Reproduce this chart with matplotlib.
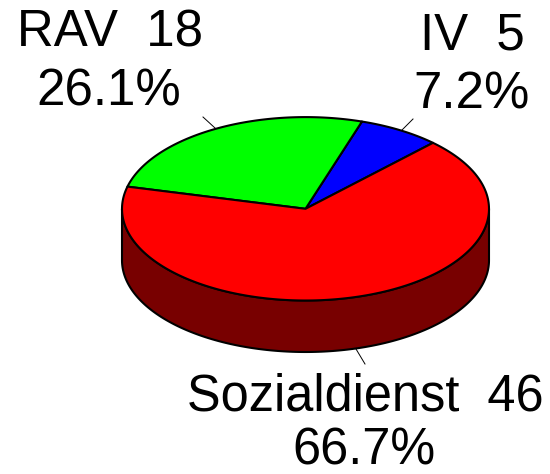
import numpy as np
import matplotlib
matplotlib.use("Agg")
import matplotlib.pyplot as plt
from matplotlib.patches import Polygon

labels = ["IV", "RAV", "Sozialdienst"]
counts = [5, 18, 46]
percents = ["7.2%", "26.1%", "66.7%"]
colors = ["#0000ff", "#00ff00", "#ff0000"]
side_color = "#780000"

plt.rcParams['font.family'] = ['Liberation Sans', 'DejaVu Sans']
fig = plt.figure(figsize=(5.5, 4.74), dpi=100)
ax = fig.add_axes([0, 0, 1, 1])
ax.set_xlim(0, 550)
ax.set_ylim(474, 0)
ax.axis('off')

cx, cy, rx, ry, depth = 305.5, 208.8, 183.5, 91.7, 51.5
start = 46.0
edge_lw = 1.5

def pt(a, dy=0):
    a = np.radians(a)
    return np.column_stack([cx + rx*np.cos(a), cy - ry*np.sin(a) + dy])

# leader lines
for (x0, y0, x1, y1) in [(402, 130, 413, 119), (215, 128, 203, 117), (356, 349, 365, 364)]:
    ax.plot([x0, x1], [y0, y1], color='black', lw=0.7, zorder=0.5)

# side wall (front half of the ellipse)
arc = np.linspace(180, 360, 200)
side = np.vstack([pt(arc), pt(arc[::-1], depth)])
ax.add_patch(Polygon(side, closed=True, fc=side_color, ec='black', lw=edge_lw, joinstyle='round'))

# top wedges
total = sum(counts)
a0 = start
for c, col in zip(counts, colors):
    a1 = a0 + 360*c/total
    arc = np.linspace(a0, a1, 200)
    poly = np.vstack([[cx, cy], pt(arc)])
    ax.add_patch(Polygon(poly, closed=True, fc=col, ec='black', lw=edge_lw, joinstyle='round'))
    a0 = a1

fs = 36.7
ax.text(472, 36, f"{labels[0]}  {counts[0]}", fontsize=fs, ha='center', va='center')
ax.text(472, 95, percents[0], fontsize=fs, ha='center', va='center')
ax.text(110, 33, f"{labels[1]}  {counts[1]}", fontsize=fs, ha='center', va='center')
ax.text(109, 92, percents[1], fontsize=fs, ha='center', va='center')
ax.text(365, 397, f"{labels[2]}  {counts[2]}", fontsize=36.4, ha='center', va='center')
ax.text(364, 451, percents[2], fontsize=36.4, ha='center', va='center')

fig.savefig("out.png", dpi=100)
